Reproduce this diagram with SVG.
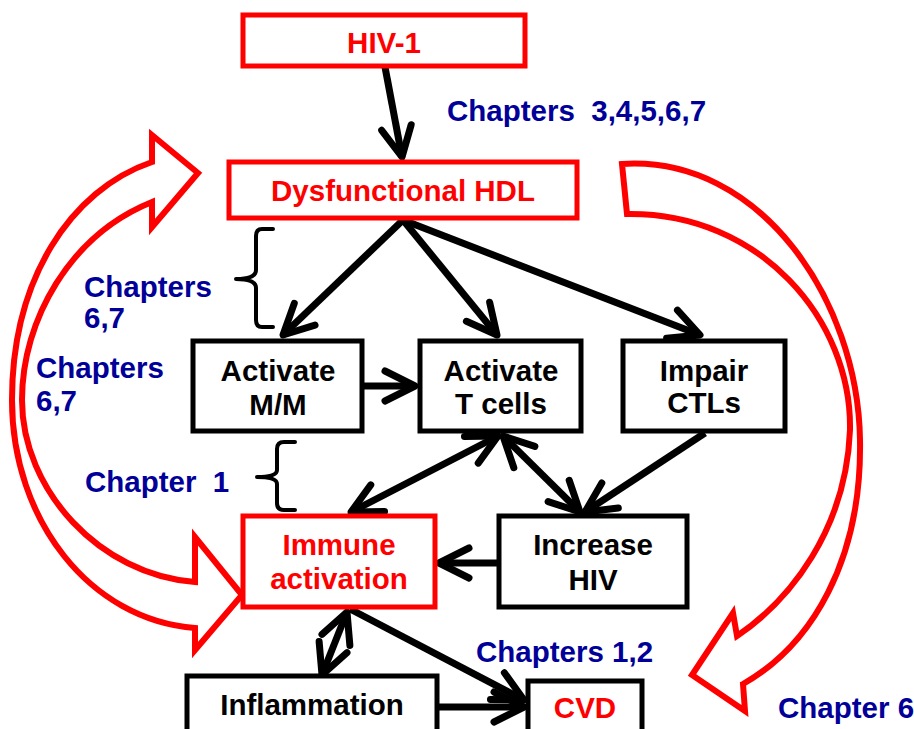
<svg xmlns="http://www.w3.org/2000/svg" width="914" height="729" viewBox="0 0 914 729">
<style>
.box{fill:#fff;stroke:#000;stroke-width:5}
.rbox{fill:#fff;stroke:#f00;stroke-width:5}
.t{font-family:"Liberation Sans",Arial,sans-serif;font-weight:bold;font-size:29.5px;text-anchor:middle;fill:#000}
.rt{fill:#f00}
.lab{font-family:"Liberation Sans",Arial,sans-serif;font-weight:bold;font-size:29.5px;fill:#000099}
.c{fill:none;stroke:#000;stroke-width:7}
.brace{fill:none;stroke:#000;stroke-width:4;stroke-linejoin:round;stroke-linecap:round}
.big{fill:#fff;stroke:#f00;stroke-width:6;stroke-linejoin:miter}
</style>
<defs>
<marker id="ah" markerUnits="userSpaceOnUse" markerWidth="60" markerHeight="60" viewBox="-40 -30 60 60" refX="0" refY="0" orient="auto-start-reverse" overflow="visible">
<path d="M-30,-15 L0,0 L-30,15" fill="none" stroke="#000" stroke-width="7" stroke-linecap="round" stroke-linejoin="round"/>
</marker>
</defs>
<g id="bigArrows">
<path id="leftArrow" class="big" d="M198,173 L152,227 L152,202 C70,235 22,320 22,400 C22,490 100,575 195,582 L195,537 L242,595 L195,650 L195,628 C90,620 12,520 12,400 C12,280 70,190 152,162 L152,135 Z"/>
<path id="rightArrow" class="big" d="M622,164 C760,155 858,300 860,440 C862,560 812,645 743,684 L745,711 L692,675 L733,613 L737,636 C790,600 846,530 850,430 C852,320 760,212 627,214 Z"/>
</g>
<g id="braces">
<path class="brace" d="M273,229 H262 Q256,229 256,236 V270 Q256,279 236,279 Q256,279 256,288 V320 Q256,327 262,327 H273"/>
<path class="brace" d="M295,442 H284 Q277,442 277,449 V470 Q277,477 257,477 Q277,477 277,484 V503 Q277,510 284,510 H295"/>
</g>
<g id="connectors">
<line class="c" x1="385" y1="67" x2="402" y2="157" marker-end="url(#ah)"/>
<line class="c" x1="403" y1="220" x2="283" y2="335" marker-end="url(#ah)"/>
<line class="c" x1="403" y1="220" x2="497" y2="335" marker-end="url(#ah)"/>
<line class="c" x1="403" y1="220" x2="700" y2="335" marker-end="url(#ah)"/>
<line class="c" x1="362" y1="386" x2="415" y2="386" marker-end="url(#ah)"/>
<line class="c" x1="498" y1="436" x2="351" y2="512" marker-start="url(#ah)" marker-end="url(#ah)"/>
<line class="c" x1="503" y1="436" x2="580" y2="512" marker-start="url(#ah)" marker-end="url(#ah)"/>
<line class="c" x1="705" y1="433" x2="585" y2="512" marker-end="url(#ah)"/>
<line class="c" x1="499" y1="563" x2="439" y2="563" marker-end="url(#ah)"/>
<line class="c" x1="347" y1="612" x2="322" y2="675" marker-start="url(#ah)" marker-end="url(#ah)"/>
<line class="c" x1="350" y1="609" x2="524" y2="700" marker-end="url(#ah)"/>
<line class="c" x1="437" y1="707" x2="524" y2="707" marker-end="url(#ah)"/>
</g>
<g id="hiv1"><rect class="rbox" x="243" y="15" width="282" height="51"/><text class="t rt" x="384" y="53">HIV-1</text></g>
<g id="hdl"><rect class="rbox" x="229" y="162" width="348" height="56"/><text class="t rt" x="403" y="201">Dysfunctional HDL</text></g>
<g id="mm"><rect class="box" x="193" y="341" width="169" height="90"/><text class="t" x="278" y="381">Activate</text><text class="t" x="278" y="415">M/M</text></g>
<g id="tcells"><rect class="box" x="420" y="341" width="161" height="90"/><text class="t" x="501" y="381">Activate</text><text class="t" x="501" y="414">T cells</text></g>
<g id="ctl"><rect class="box" x="623" y="341" width="162" height="90"/><text class="t" x="704" y="381">Impair</text><text class="t" x="704" y="413">CTLs</text></g>
<g id="immune"><rect class="rbox" x="243" y="516" width="192" height="91"/><text class="t rt" x="339" y="555">Immune</text><text class="t rt" x="339" y="589">activation</text></g>
<g id="increase"><rect class="box" x="499" y="516" width="188" height="91"/><text class="t" x="593" y="555">Increase</text><text class="t" x="593" y="590">HIV</text></g>
<g id="inflam"><rect class="box" x="187" y="676" width="250" height="70"/><text class="t" x="312" y="715">Inflammation</text></g>
<g id="cvd"><rect class="box" x="528" y="681" width="114" height="70"/><text class="t rt" x="585" y="718">CVD</text></g>
<g id="labels">
<text class="lab" x="447" y="121" xml:space="preserve">Chapters  3,4,5,6,7</text>
<text class="lab" x="84" y="297">Chapters</text>
<text class="lab" x="84" y="328">6,7</text>
<text class="lab" x="36" y="378">Chapters</text>
<text class="lab" x="36" y="411">6,7</text>
<text class="lab" x="85" y="492" xml:space="preserve">Chapter  1</text>
<text class="lab" x="476" y="662">Chapters 1,2</text>
<text class="lab" x="778" y="718">Chapter 6</text>
</g>
</svg>
